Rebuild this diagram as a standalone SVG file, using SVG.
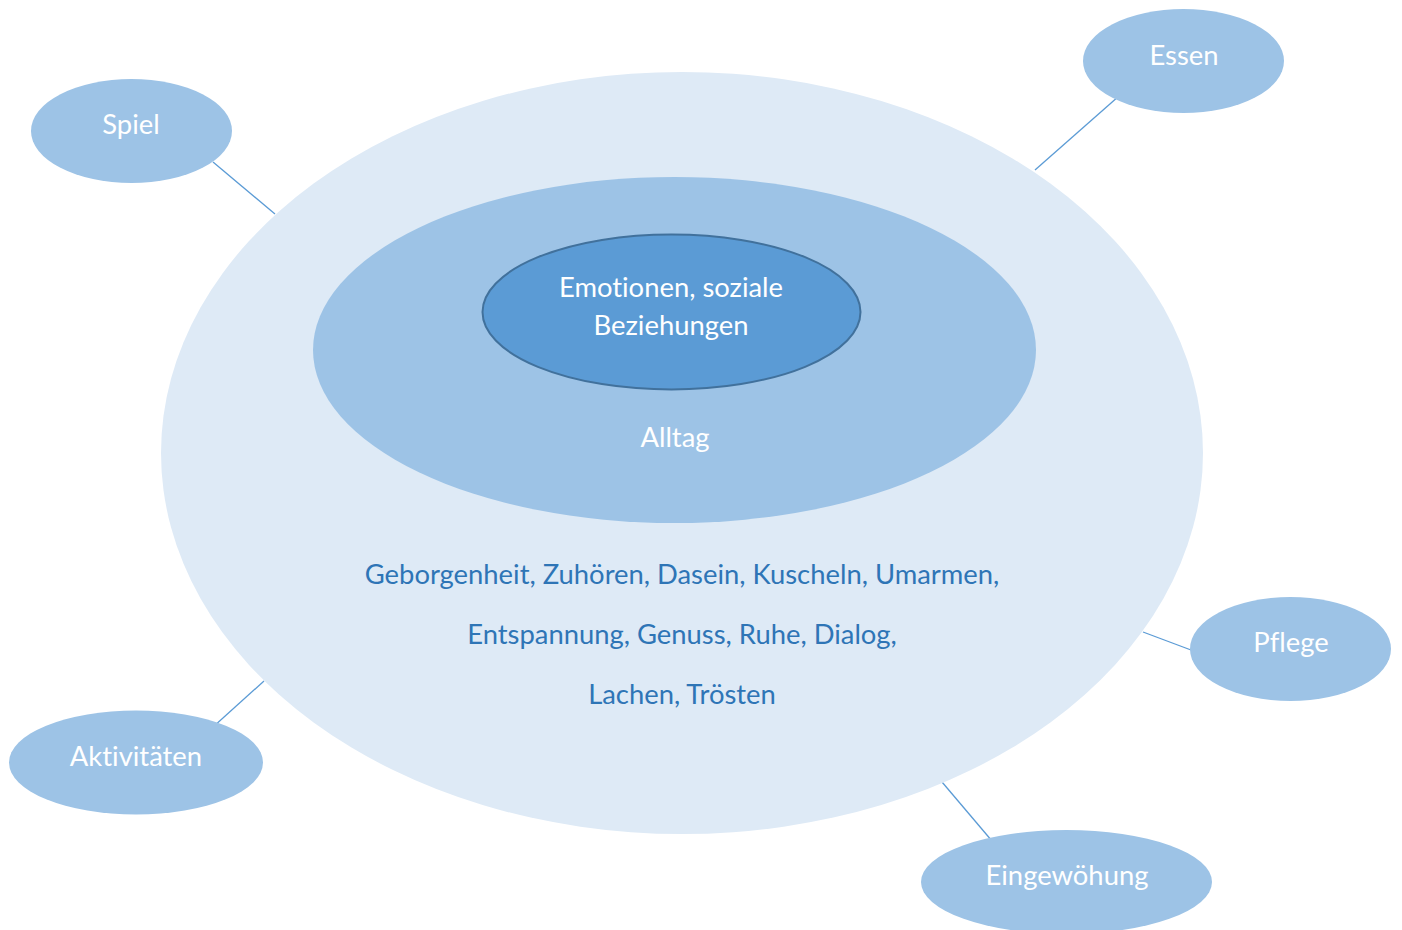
<svg xmlns="http://www.w3.org/2000/svg" width="1402" height="930" viewBox="0 0 1402 930">
<style>
.t{font-family:Lato,"Open Sans","Liberation Sans",sans-serif;font-size:27.4px;text-anchor:middle;font-variant-ligatures:none;font-feature-settings:"liga" 0,"dlig" 0}
.w{fill:#ffffff}
.b{fill:#2e75b6}
.sat{fill:#9dc3e6}
.conn{stroke:#5b9bd5;stroke-width:1.3;fill:none}
</style>
<rect width="1402" height="930" fill="#ffffff"/>
<g id="connectors">
<line class="conn" x1="213" y1="162" x2="275" y2="214"/>
<line class="conn" x1="1119" y1="96" x2="1035" y2="170"/>
<line class="conn" x1="1143" y1="632" x2="1191" y2="650"/>
<line class="conn" x1="213" y1="727" x2="264" y2="681"/>
<line class="conn" x1="942" y1="782" x2="992" y2="841"/>
</g>
<g id="outer">
<ellipse cx="682" cy="453" rx="521" ry="381" fill="#deeaf6"/>
<text class="t b" x="682" y="584">Geborgenheit, Zuhören, Dasein, Kuscheln, Umarmen,</text>
<text class="t b" x="682" y="644">Entspannung, Genuss, Ruhe, Dialog,</text>
<text class="t b" x="682" y="704">Lachen, Trösten</text>
</g>
<g id="alltag">
<ellipse cx="674.5" cy="350" rx="361.5" ry="173" fill="#9dc3e6"/>
<text class="t w" x="675" y="447">Alltag</text>
</g>
<g id="core">
<ellipse cx="671.5" cy="312" rx="189" ry="77.5" fill="#5b9bd5" stroke="#41719c" stroke-width="2"/>
<text class="t w" x="671" y="297">Emotionen, soziale</text>
<text class="t w" x="671" y="335">Beziehungen</text>
</g>
<g id="spiel">
<ellipse class="sat" cx="131.5" cy="131" rx="100.5" ry="52"/>
<text class="t w" x="131" y="134">Spiel</text>
</g>
<g id="essen">
<ellipse class="sat" cx="1183.5" cy="61" rx="100.5" ry="52"/>
<text class="t w" x="1184" y="65">Essen</text>
</g>
<g id="pflege">
<ellipse class="sat" cx="1290.5" cy="649" rx="100.5" ry="52"/>
<text class="t w" x="1291" y="652">Pflege</text>
</g>
<g id="aktivitaeten">
<ellipse class="sat" cx="136" cy="762.5" rx="127" ry="52"/>
<text class="t w" x="136" y="766">Aktivitäten</text>
</g>
<g id="eingewoehung">
<ellipse class="sat" cx="1066.5" cy="882" rx="145.5" ry="52"/>
<text class="t w" x="1067" y="885">Eingewöhung</text>
</g>
</svg>
